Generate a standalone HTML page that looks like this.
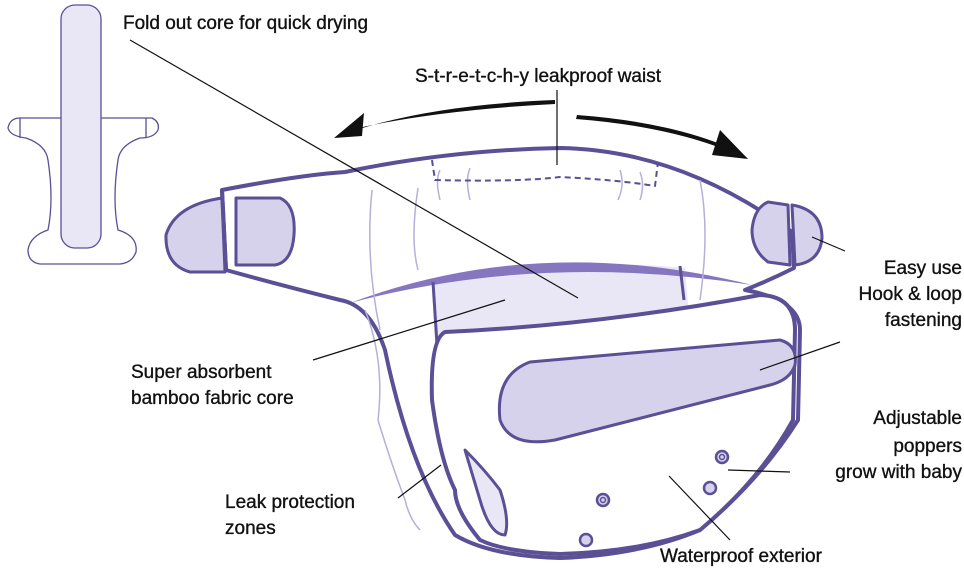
<!DOCTYPE html>
<html><head><meta charset="utf-8"><style>
html,body{margin:0;padding:0;background:#fff;}
svg{display:block}
text{font-family:"Liberation Sans",sans-serif;font-size:19px;fill:#111;stroke:#111;stroke-width:0.35;}
</style></head><body>
<svg width="964" height="579" viewBox="0 0 964 579" xmlns="http://www.w3.org/2000/svg">
<g fill="#fff" stroke="#5b4f96" stroke-width="1.3">
<path d="M20,118 H152 Q160,122 158,130 Q154,138 140,138 Q120,145 118,160 Q112,200 118,230 Q138,236 136,252 Q132,263 120,264 H40 Q28,262 28,250 Q30,236 48,230 Q54,200 48,160 Q46,145 26,138 Q10,136 8,128 Q10,118 20,118 Z"/>
<line x1="20" y1="118" x2="20" y2="138"/><line x1="146" y1="118" x2="146" y2="138"/>
<rect x="61" y="5" width="40" height="243" rx="14" fill="#e9e7f6"/>
</g>
<g stroke="#5b4f96" stroke-width="4" stroke-linejoin="round">
<path d="M222,190 Q300,175 345,172 Q450,150 560,148 Q680,150 792,232 L794,268 Q770,280 745,290 Q800,300 800,330 L798,420 Q760,480 700,530 Q640,555 560,558 Q490,556 455,535 Q410,470 385,350 Q370,305 340,300 Q280,285 226,270 Z" fill="#fff"/>
<path d="M433,282 Q560,256 685,268 L690,330 Q560,340 437,345 Z" fill="#e9e7f6" stroke="none"/>
<path d="M350,303 Q540,232 752,285 Q540,252 350,303 Z" fill="#8576bf" stroke="none"/>
<line x1="433" y1="282" x2="437" y2="345" stroke-width="3"/>
<line x1="680" y1="266" x2="684" y2="300" stroke-width="3"/>
<g stroke="#b7afd9" stroke-width="1.5" fill="none">
<path d="M365,310 Q385,360 378,420 Q390,460 405,500 Q410,520 420,530"/>
<path d="M372,190 Q365,260 380,330"/><path d="M418,188 Q410,240 418,270"/>
<path d="M440,170 Q435,180 440,200"/><path d="M470,168 Q465,180 470,200"/>
<path d="M620,170 Q625,185 618,200"/><path d="M640,172 Q645,185 640,200"/>
<path d="M700,180 Q710,230 700,300"/><path d="M770,390 Q772,420 765,450"/>
<path d="M580,430 Q590,480 575,530"/>
</g>
<path d="M432,160 L435,180 Q520,182 560,177 Q620,180 655,186 L658,162" fill="none" stroke-width="2" stroke-dasharray="6,4"/>
<path d="M222,198 Q175,205 166,235 Q165,265 190,272 L225,272 Z" fill="#d6d2ec" stroke-width="3"/>
<path d="M236,198 H280 Q296,205 294,235 Q292,262 275,265 H236 Z" fill="#d6d2ec" stroke-width="3"/>
<line x1="222" y1="190" x2="226" y2="270" stroke-width="4"/>
<path d="M792,205 Q822,210 822,238 Q820,262 795,265 Z" fill="#d6d2ec" stroke-width="3"/>
<path d="M768,202 L788,205 L790,265 L768,262 Q752,250 752,230 Q754,208 768,202 Z" fill="#d6d2ec" stroke-width="3"/>
<path d="M445,332 Q600,325 760,295 Q795,296 795,330 L793,420 Q760,480 700,530 Q640,552 560,554 Q505,552 480,540 Q455,510 455,490 Q440,460 432,400 Q430,340 445,332 Z" fill="#fff"/>
<path d="M465,450 Q485,470 500,490 Q510,520 505,535 Q490,535 480,500 Z" fill="#e9e7f6" stroke-width="3"/>
<path d="M530,362 L780,340 Q798,345 795,365 Q790,380 770,385 L555,440 Q510,448 500,420 Q495,375 530,362 Z" fill="#d6d2ec" stroke-width="3"/>
</g>
<g fill="#d6d2ec" stroke="#5b4f96" stroke-width="2.5">
<circle cx="722" cy="457" r="6"/><circle cx="722" cy="457" r="2.5" fill="none" stroke-width="1.5"/>
<circle cx="710" cy="488" r="6"/>
<circle cx="603" cy="500" r="6"/><circle cx="603" cy="500" r="2.5" fill="none" stroke-width="1.5"/>
<circle cx="586" cy="540" r="6"/>
</g>
<g fill="#111">
<path d="M555,100 Q430,105 350,132 L337,138 L362,118 L358,128 Q440,110 555,104 Z"/>
<path d="M334,138 L364,113 L362,136 Z"/>
<path d="M577,115 Q670,122 730,148 L722,135 L747,158 L715,154 L726,150 Q665,126 576,119 Z"/>
<path d="M748,159 L720,130 L712,155 Z"/>
</g>
<g stroke="#111" stroke-width="1.2">
<line x1="130" y1="40" x2="578" y2="298"/>
<line x1="557" y1="90" x2="557" y2="165"/>
<line x1="845" y1="251" x2="812" y2="237"/>
<line x1="840" y1="342" x2="760" y2="370"/>
<line x1="313" y1="360" x2="505" y2="300"/>
<line x1="398" y1="498" x2="441" y2="465"/>
<line x1="728" y1="470" x2="790" y2="472"/>
<line x1="669" y1="476" x2="730" y2="540"/>
</g>
<text x="123" y="29">Fold out core for quick drying</text>
<text x="415" y="82">S-t-r-e-t-c-h-y leakproof waist</text>
<text x="962" y="274" text-anchor="end">Easy use</text>
<text x="962" y="300" text-anchor="end">Hook &amp; loop</text>
<text x="962" y="326" text-anchor="end">fastening</text>
<text x="131" y="378">Super absorbent</text>
<text x="131" y="404">bamboo fabric core</text>
<text x="225" y="508">Leak protection</text>
<text x="225" y="534">zones</text>
<text x="962" y="424" text-anchor="end">Adjustable</text>
<text x="962" y="452" text-anchor="end">poppers</text>
<text x="962" y="478" text-anchor="end">grow with baby</text>
<text x="660" y="562">Waterproof exterior</text>
</svg>
</body></html>
